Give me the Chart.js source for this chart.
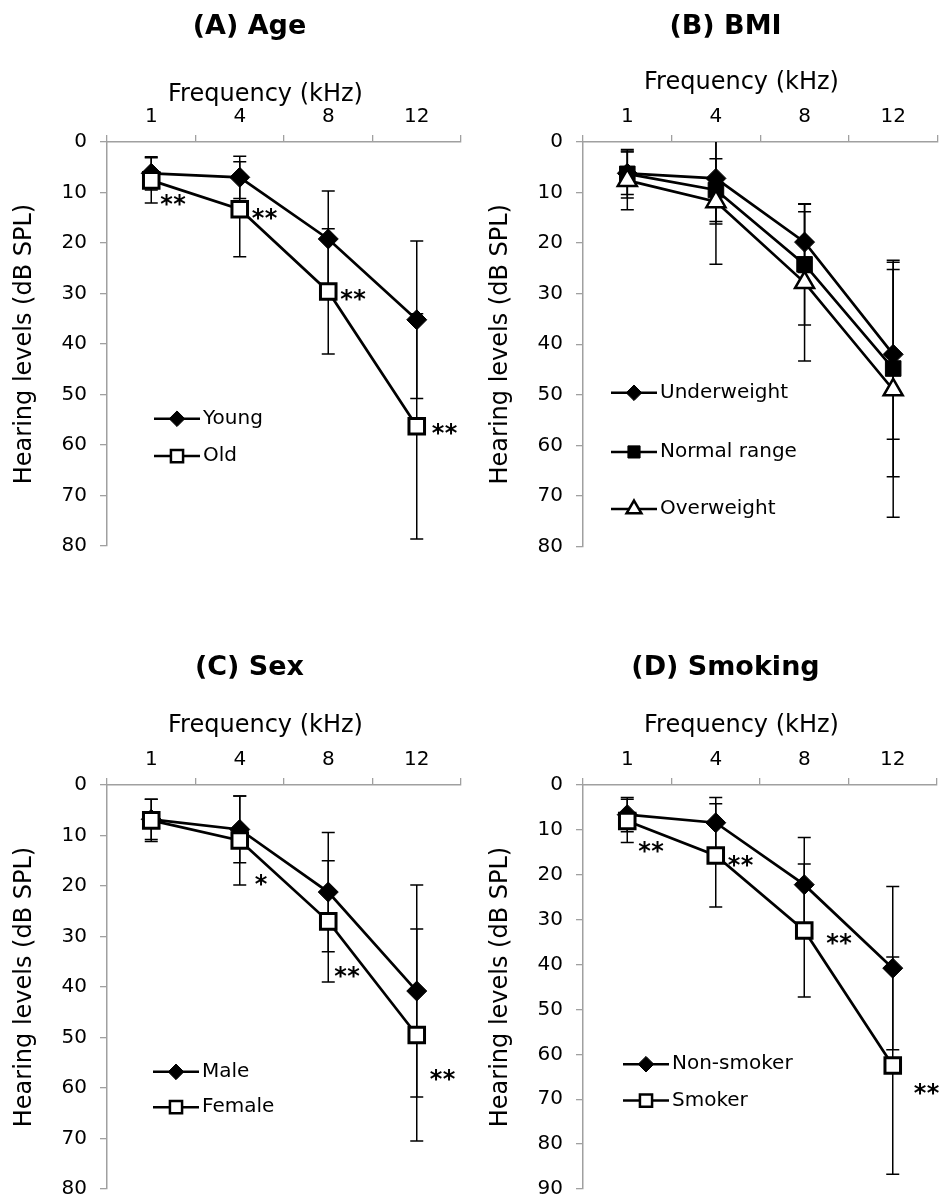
<!DOCTYPE html>
<html lang="en">
<head>
<meta charset="utf-8">
<title>Hearing levels by age, BMI, sex and smoking</title>
<script src="https://cdn.jsdelivr.net/npm/chart.js@4.4.1/dist/chart.umd.min.js"></script>
<style>
    html, body { margin: 0; padding: 0; background: #fff; }
    body {
        width: 943px;
        height: 1202px;
        position: relative;
        overflow: hidden;
        font-family: 'DejaVu Sans', sans-serif;
        color: #000;
    }
    .panel { position: absolute; width: 475px; height: 560px; }
    .panel canvas { position: absolute; left: 0; top: 0; width: 475px; height: 560px; }
    .titulo {
        position: absolute; left: 14px; top: 11px; width: 471px;
        font-weight: bold; font-size: 27px; line-height: 27px;
        text-align: center; white-space: nowrap;
    }
    .frecuencia {
        position: absolute; left: 30px; top: 69px; width: 471px;
        font-size: 24px; line-height: 24px;
        text-align: center; white-space: nowrap;
    }
    #panelA .frecuencia { top: 81px; }
    #panelC .titulo, #panelD .titulo { top: 9px; }
</style>
</head>
<body>

<div class="panel" id="panelA" style="left:0; top:0;">
    <canvas id="graficoA" width="475" height="560"></canvas>
    <div class="titulo">(A) Age</div>
    <div class="frecuencia">Frequency (kHz)</div>
</div>
<div class="panel" id="panelB" style="left:476px; top:0;">
    <canvas id="graficoB" width="475" height="560"></canvas>
    <div class="titulo">(B) BMI</div>
    <div class="frecuencia">Frequency (kHz)</div>
</div>
<div class="panel" id="panelC" style="left:0; top:643px;">
    <canvas id="graficoC" width="475" height="560"></canvas>
    <div class="titulo">(C) Sex</div>
    <div class="frecuencia">Frequency (kHz)</div>
</div>
<div class="panel" id="panelD" style="left:476px; top:643px;">
    <canvas id="graficoD" width="475" height="560"></canvas>
    <div class="titulo">(D) Smoking</div>
    <div class="frecuencia">Frequency (kHz)</div>
</div>

<script>
// ===================================== Datos =====================================
const frecuencias = ['1', '4', '8', '12'];
const ticksNivel = [0, 10, 20, 30, 40, 50, 60, 70, 80];
const ticksNivelSmoking = [0, 10, 20, 30, 40, 50, 60, 70, 80, 90];

// (A) Age
const youngMedia = [6.2, 7.0, 19.2, 35.2];
const youngDE = [3.3, 4.2, 9.5, 15.6];
const oldMedia = [7.6, 13.3, 29.6, 56.3];
const oldDE = [4.5, 9.4, 12.4, 22.3];
const asteriscosAge = ['**', '**', '**', '**'];
const nivelAsteriscosAge = [11.1, 13.9, 29.9, 56.4];

// (B) BMI
const underMedia = [6.2, 7.2, 19.8, 42.0];
const underDE = [4.2, 9.0, 6.0, 16.8];
const normalMedia = [6.3, 9.5, 24.2, 44.8];
const normalDE = [4.8, 6.2, 12.0, 21.4];
const overMedia = [7.6, 11.8, 27.8, 49.0];
const overDE = [5.8, 12.4, 15.5, 25.2];

// (C) Sex
const maleMedia = [6.8, 8.8, 21.2, 40.8];
const maleDE = [4.0, 6.6, 11.8, 21.0];
const femaleMedia = [7.0, 11.0, 27.0, 49.5];
const femaleDE = [4.2, 8.8, 12.0, 21.0];
const asteriscosSex = ['', '*', '**', '**'];
const nivelAsteriscosSex = [null, 18.4, 36.6, 57.0];

// (D) Smoking
const nonSmokerMedia = [6.6, 8.4, 22.2, 40.8];
const nonSmokerDE = [3.8, 5.6, 10.5, 18.2];
const smokerMedia = [8.0, 15.7, 32.4, 62.5];
const smokerDE = [4.8, 11.5, 14.8, 24.2];
const asteriscosSmoking = ['**', '**', '**', '**'];
const nivelAsteriscosSmoking = [13.4, 16.4, 33.8, 67.2];


// ===================================== Estilos de marcadores =====================
const GRIS = '#a0a0a0';
const FUENTE = "'DejaVu Sans', sans-serif";

const MARCADORES = {
    rombo:       { pointStyle: 'rectRot',  pointRadius: 10, pointBackgroundColor: '#000', pointBorderWidth: 1 },
    cuadroVacio: { pointStyle: 'rect',     pointRadius: 11, pointBackgroundColor: '#fff', pointBorderWidth: 3 },
    cuadroLleno: { pointStyle: 'rect',     pointRadius: 11, pointBackgroundColor: '#000', pointBorderWidth: 1 },
    triangulo:   { pointStyle: 'triangle', pointRadius: 11, pointBackgroundColor: '#fff', pointBorderWidth: 2.5 }
};

function serie(label, media, de, marcador, orden) {
    const m = MARCADORES[marcador];
    return {
        label: label,
        data: media,
        de: de,
        order: orden,
        borderColor: '#000',
        borderWidth: 2.7,
        tension: 0,
        pointStyle: m.pointStyle,
        pointRadius: m.pointRadius,
        pointHoverRadius: m.pointRadius,
        pointBackgroundColor: m.pointBackgroundColor,
        pointBorderColor: '#000',
        pointBorderWidth: m.pointBorderWidth
    };
}


// ===================================== Configuracion de paneles ==================
const configPaneles = {
    graficoA: {
        ticks: ticksNivel,
        series: [
            serie('Young', youngMedia, youngDE, 'rombo', 2),
            serie('Old', oldMedia, oldDE, 'cuadroVacio', 1)
        ],
        leyenda: { x: 47, niveles: [54.8, 62.2] },
        asteriscos: { textos: asteriscosAge, niveles: nivelAsteriscosAge, desplaz: [9, 12, 12, 15] }
    },
    graficoB: {
        ticks: ticksNivel,
        series: [
            serie('Underweight', underMedia, underDE, 'rombo', 3),
            serie('Normal range', normalMedia, normalDE, 'cuadroLleno', 2),
            serie('Overweight', overMedia, overDE, 'triangulo', 1)
        ],
        leyenda: { x: 28, niveles: [49.6, 61.3, 72.6] },
        asteriscos: null
    },
    graficoC: {
        ticks: ticksNivel,
        series: [
            serie('Male', maleMedia, maleDE, 'rombo', 2),
            serie('Female', femaleMedia, femaleDE, 'cuadroVacio', 1)
        ],
        leyenda: { x: 46, niveles: [56.8, 63.8] },
        asteriscos: { textos: asteriscosSex, niveles: nivelAsteriscosSex, desplaz: [0, 15, 6, 13] }
    },
    graficoD: {
        ticks: ticksNivelSmoking,
        series: [
            serie('Non-smoker', nonSmokerMedia, nonSmokerDE, 'rombo', 2),
            serie('Smoker', smokerMedia, smokerDE, 'cuadroVacio', 1)
        ],
        leyenda: { x: 40, niveles: [62.2, 70.3] },
        asteriscos: { textos: asteriscosSmoking, niveles: nivelAsteriscosSmoking, desplaz: [11, 12, 22, 21] }
    }
};


// ===================================== Barras de error (detras de las lineas) ====
function dibujarErrores(chart) {
    const { ctx, chartArea: a, scales: { x, y } } = chart;
    ctx.save();
    ctx.beginPath();
    ctx.rect(a.left, a.top, a.right - a.left, a.bottom - a.top);
    ctx.clip();
    ctx.strokeStyle = '#000';
    ctx.lineWidth = 1.5;
    chart.data.datasets.forEach(ds => {
        ds.data.forEach((v, i) => {
            const px = x.getPixelForValue(i);
            const arriba = y.getPixelForValue(v - ds.de[i]);
            const abajo = y.getPixelForValue(v + ds.de[i]);
            ctx.beginPath();
            ctx.moveTo(px, arriba); ctx.lineTo(px, abajo);
            ctx.moveTo(px - 6.5, arriba); ctx.lineTo(px + 6.5, arriba);
            ctx.moveTo(px - 6.5, abajo); ctx.lineTo(px + 6.5, abajo);
            ctx.stroke();
        });
    });
    ctx.restore();
}

// ===================================== Asteriscos de significancia ===============
function dibujarAsteriscos(chart) {
    const cfg = configPaneles[chart.canvas.id].asteriscos;
    if (!cfg) return;
    const { ctx, scales: { x, y } } = chart;
    ctx.save();
    ctx.fillStyle = '#000';
    ctx.font = 'bold 24px ' + FUENTE;
    ctx.textAlign = 'left';
    ctx.textBaseline = 'alphabetic';
    cfg.textos.forEach((t, i) => {
        if (!t) return;
        const px = x.getPixelForValue(i) + cfg.desplaz[i];
        const py = y.getPixelForValue(cfg.niveles[i]) + 14;
        [...t].forEach((c, k) => ctx.fillText(c, px + k * 13, py));
    });
    ctx.restore();
}

// ===================================== Leyenda dentro del grafico ================
function dibujarLeyenda(chart) {
    const cfg = configPaneles[chart.canvas.id].leyenda;
    const { ctx, chartArea: a, scales: { y } } = chart;
    ctx.save();
    chart.data.datasets.forEach((ds, i) => {
        const yy = y.getPixelForValue(cfg.niveles[i]);
        const x0 = a.left + cfg.x;

        ctx.strokeStyle = '#000';
        ctx.lineWidth = 2.5;
        ctx.beginPath();
        ctx.moveTo(x0, yy);
        ctx.lineTo(x0 + 46, yy);
        ctx.stroke();

        const borde = Math.min(ds.pointBorderWidth, 2.5);
        ctx.fillStyle = ds.pointBackgroundColor;
        ctx.lineWidth = borde;
        Chart.helpers.drawPoint(ctx, {
            pointStyle: ds.pointStyle,
            radius: ds.pointRadius * 0.78,
            rotation: 0,
            borderWidth: borde
        }, x0 + 23, yy);

        ctx.fillStyle = '#000';
        ctx.font = '20px ' + FUENTE;
        ctx.textAlign = 'left';
        ctx.textBaseline = 'middle';
        ctx.fillText(ds.label, x0 + 49, yy);
    });
    ctx.restore();
}

Chart.register({
    id: 'extras',
    beforeDatasetsDraw(chart) { dibujarErrores(chart); },
    afterDatasetsDraw(chart) { dibujarAsteriscos(chart); dibujarLeyenda(chart); }
});


// ===================================== Crear cada grafico ========================
Chart.defaults.font.family = FUENTE;
Chart.defaults.color = '#000';

function crearGrafico(idCanvas) {
    const cfg = configPaneles[idCanvas];
    const maximo = cfg.ticks[cfg.ticks.length - 1];

    return new Chart(document.getElementById(idCanvas), {
        type: 'line',
        data: { labels: frecuencias, datasets: cfg.series },
        options: {
            responsive: false,
            animation: false,
            events: [],
            layout: { padding: { top: 0, right: 8, bottom: 10, left: 0 } },
            plugins: {
                legend: { display: false },
                tooltip: { enabled: false },
                title: { display: false }
            },
            scales: {
                x: {
                    type: 'category',
                    position: 'top',
                    offset: true,
                    grid: { offset: true, drawOnChartArea: false, tickLength: 7, color: GRIS, lineWidth: 1.3 },
                    border: { color: GRIS, width: 1.5 },
                    ticks: { font: { size: 20 }, padding: 6, color: '#000', maxRotation: 0, autoSkip: false },
                    afterFit: s => {
                        s.height = 142;
                        s.paddingLeft = 0;
                        s.paddingRight = 0;
                    }
                },
                y: {
                    type: 'linear',
                    reverse: true,
                    min: 0,
                    max: maximo,
                    afterBuildTicks: s => { s.ticks = cfg.ticks.map(v => ({ value: v })); },
                    grid: { drawOnChartArea: false, tickLength: 7, color: GRIS, lineWidth: 1.3 },
                    border: { color: GRIS, width: 1.5 },
                    ticks: { font: { size: 20 }, padding: 13, color: '#000' },
                    title: {
                        display: true,
                        text: 'Hearing levels (dB SPL)',
                        font: { size: 24 },
                        color: '#000',
                        padding: { top: 10.6, bottom: 0 }
                    },
                    afterFit: s => {
                        s.width = 107;
                        s.paddingTop = 0;
                        s.paddingBottom = 0;
                    }
                }
            }
        }
    });
}

['graficoA', 'graficoB', 'graficoC', 'graficoD'].forEach(crearGrafico);
</script>
</body>
</html>
